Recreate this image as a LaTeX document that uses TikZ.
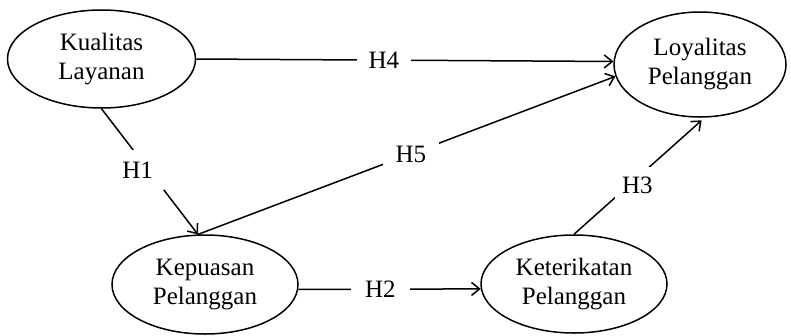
\documentclass[tikz,border=0pt]{standalone}
\usepackage{fontspec}
\setmainfont{Liberation Serif}
\usetikzlibrary{shapes.geometric,arrows.meta}
\begin{document}
\begin{tikzpicture}[x=1pt,y=-1pt,
  every node/.style={font=\fontsize{25pt}{29pt}\selectfont},
  construct/.style={ellipse,draw,line width=1.5pt,inner sep=0pt,align=center},
  link/.style={line width=1.5pt,-{Straight Barb[length=8pt,width=13pt,line width=1.5pt]}},
  lbl/.style={fill=white,text height=16.5pt,text depth=0pt,inner ysep=6pt}]
\useasboundingbox (0,0) rectangle (791,335);
\node[construct,minimum width=188pt,minimum height=98pt] (kl) at (101.5,59) {Kualitas\\Layanan};
\node[construct,minimum width=172pt,minimum height=105pt] (lp) at (700,64.5) {Loyalitas\\Pelanggan};
\node[construct,minimum width=186pt,minimum height=99pt] (kp) at (205,284.5) {Kepuasan\\Pelanggan};
\node[construct,minimum width=186pt,minimum height=98pt] (kt) at (574,284) {Keterikatan\\Pelanggan};
\draw[link] (kl.east) -- node[lbl,pos=0.45,inner xsep=12pt] (h4) {H4} (lp.178);
\draw[link] (kp.98) -- node[lbl,pos=0.51,inner xsep=13pt] (h5) {H5} (lp.188);
\draw[link] (kl.south) -- node[lbl,pos=0.488,xshift=-11pt,inner xsep=11pt,inner ysep=12pt] (h1) {H1} (kp.98);
\draw[link] (kp.-3) -- node[lbl,pos=0.45,inner xsep=14pt] (h2) {H2} (kt.183);
\draw[link,shorten >=4pt] (kt.north) -- node[lbl,pos=0.424,xshift=8pt,inner xsep=7pt,inner ysep=9.5pt] (h3) {H3} (lp.-85);
\end{tikzpicture}
\end{document}
